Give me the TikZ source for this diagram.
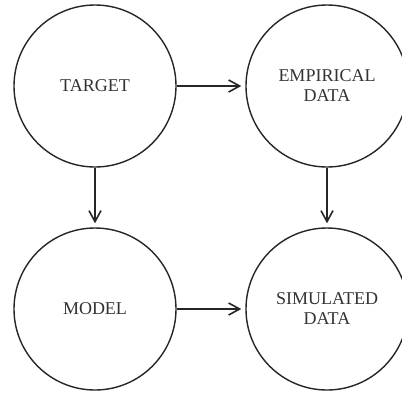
\documentclass[tikz,border=0pt]{standalone}
\usepackage{fontspec}
\setmainfont{Liberation Serif}
\usetikzlibrary{arrows.meta}
\begin{document}
\begin{tikzpicture}[x=1pt,y=-1pt,
  stage/.style={circle,draw=black!85,line width=1.4pt,minimum size=162pt,inner sep=0pt,
    align=center,text=black!80,font=\fontsize{18}{20}\selectfont},
  link/.style={draw=black!85,line width=1.1pt,shorten >=4pt,
    -{Straight Barb[length=11pt,width=12pt,line width=1.6pt]}}]
\clip (0,0) rectangle (402,392);
\fill[white] (0,0) rectangle (402,392);
\node[stage] (target) at (95,86) {TARGET};
\node[stage] (emp) at (327,86) {EMPIRICAL\\DATA};
\node[stage] (model) at (95,309) {MODEL};
\node[stage] (sim) at (327,309) {SIMULATED\\DATA};
\draw[link] (target) -- (emp);
\draw[link] (target) -- (model);
\draw[link] (emp) -- (sim);
\draw[link] (model) -- (sim);
\end{tikzpicture}
\end{document}
